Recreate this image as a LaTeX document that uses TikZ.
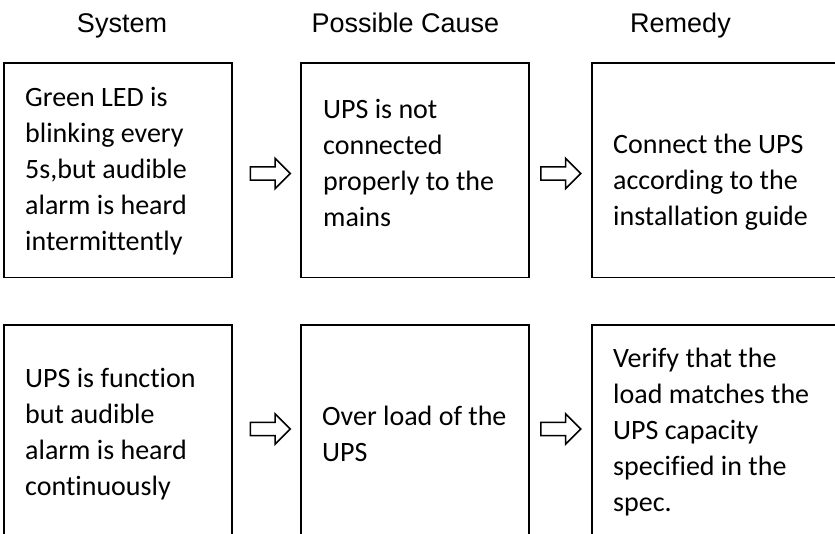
\documentclass[tikz,border=0pt]{standalone}
\usepackage{fontspec}
\setmainfont{Carlito}[Ligatures=NoCommon]
\newfontfamily\headfont{Liberation Sans}
\usetikzlibrary{shapes.arrows}
\begin{document}
\begin{tikzpicture}[x=1pt,y=-1pt,
  box/.style={draw=black, line width=1.1pt, anchor=north west, inner sep=0pt, outer sep=0pt},
  txt/.style={anchor=base west, inner sep=0pt, text width=220pt, align=flush left, font=\fontsize{28pt}{36.2pt}\selectfont},
  head/.style={anchor=base, inner sep=0pt, font=\headfont\fontsize{27pt}{32pt}\selectfont},
  flow/.style={single arrow, draw=black, line width=1.6pt, fill=white, inner xsep=0pt, inner ysep=5.8pt, text height=0pt, text depth=0pt, text width=0pt, minimum height=40pt, single arrow head extend=8.6pt}
]
\clip (0,0) rectangle (835,533);
\fill[white] (0,0) rectangle (835,533);
% headers
\node[head] (h1) at (122,32) {System};
\node[head] (h2) at (405.5,32) {Possible Cause};
\node[head] (h3) at (680.5,32) {Remedy};
% boxes
\node[box, minimum width=228pt, minimum height=214.5pt] (b11) at (4,63) {};
\node[box, minimum width=228pt, minimum height=214.5pt] (b12) at (301,63) {};
\node[box, minimum width=300pt, minimum height=214.5pt] (b13) at (592,63) {};
\node[box, minimum width=228pt, minimum height=240pt] (b21) at (4,325) {};
\node[box, minimum width=228pt, minimum height=240pt] (b22) at (301,325) {};
\node[box, minimum width=300pt, minimum height=240pt] (b23) at (592,325) {};
% texts
\node[txt] (t11) at (25,106) {Green LED is\\blinking every\\5s,but audible\\alarm is heard\\intermittently};
\node[txt] (t12) at (323,118) {UPS is not\\connected\\properly to the\\mains};
\node[txt] (t13) at (613,153) {Connect the UPS\\according to the\\installation guide};
\node[txt] (t21) at (25,387) {UPS is function\\but audible\\alarm is heard\\continuously};
\node[txt] (t22) at (322,425) {Over load of the\\UPS};
\node[txt] (t23) at (613,367) {Verify that the\\load matches the\\UPS capacity\\specified in the\\spec.};
% arrows
\node[flow] (a1) at (267,173.5) {};
\node[flow] (a2) at (557.5,173.5) {};
\node[flow] (a3) at (267,429) {};
\node[flow] (a4) at (557.5,429) {};
\end{tikzpicture}
\end{document}
